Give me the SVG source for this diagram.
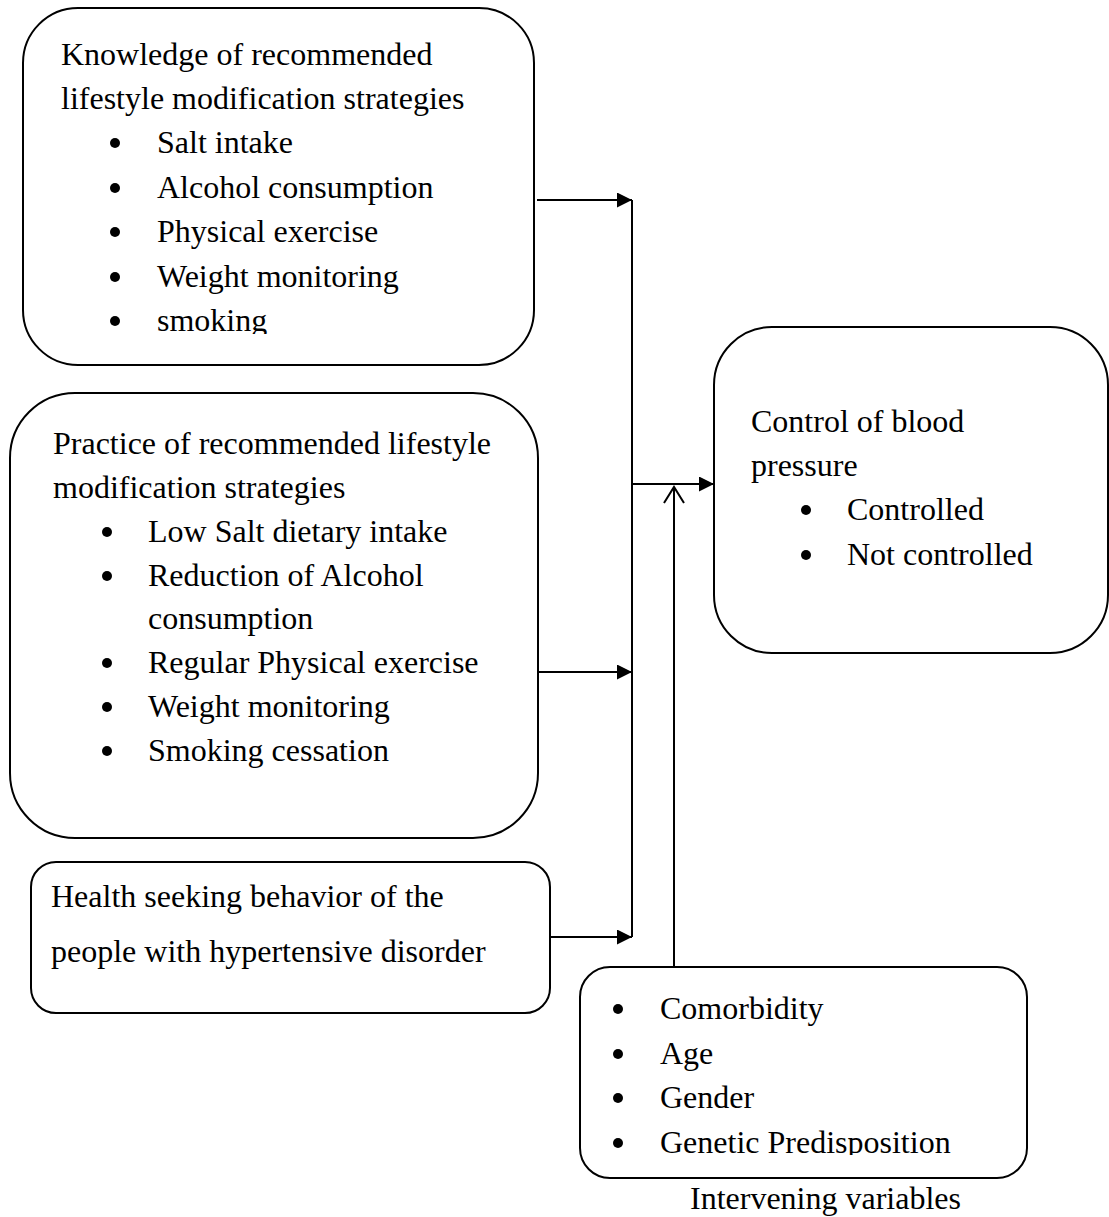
<svg xmlns="http://www.w3.org/2000/svg" width="1109" height="1217" viewBox="0 0 1109 1217">
<style>
.box{fill:#fff;stroke:#000;stroke-width:2}
text{font-family:"Liberation Serif","Times New Roman",serif;font-size:32px;fill:#000}
.ln{stroke:#000;stroke-width:2;fill:none}
.dot{fill:#000}
</style>
<defs>
<marker id="fill" markerWidth="16" markerHeight="16" refX="15" refY="7.5" orient="auto" markerUnits="userSpaceOnUse">
<path d="M0,0 L15,7.5 L0,15 Z" fill="#000"/>
</marker>
<marker id="open" markerWidth="24" markerHeight="24" refX="17" refY="11" orient="auto" markerUnits="userSpaceOnUse">
<path d="M1,1 L17,11 L1,21" fill="none" stroke="#000" stroke-width="2"/>
</marker>
<clipPath id="c1"><rect x="0" y="0" width="600" height="334"/></clipPath>
<clipPath id="c5"><rect x="560" y="960" width="520" height="195"/></clipPath>
</defs>

<g id="knowledge">
<rect class="box" x="23" y="8" width="511" height="357" rx="55" ry="55"/>
<g clip-path="url(#c1)">
<text x="61" y="65">Knowledge of recommended</text>
<text x="61" y="109">lifestyle modification strategies</text>
<circle class="dot" cx="115" cy="143" r="5"/><text x="157" y="153">Salt intake</text>
<circle class="dot" cx="115" cy="188" r="5"/><text x="157" y="198">Alcohol consumption</text>
<circle class="dot" cx="115" cy="232" r="5"/><text x="157" y="242">Physical exercise</text>
<circle class="dot" cx="115" cy="277" r="5"/><text x="157" y="287">Weight monitoring</text>
<circle class="dot" cx="115" cy="321" r="5"/><text x="157" y="331">smoking</text>
</g>
</g>

<g id="practice">
<rect class="box" x="10" y="393" width="528" height="445" rx="65" ry="65"/>
<text x="53" y="454">Practice of recommended lifestyle</text>
<text x="53" y="498">modification strategies</text>
<circle class="dot" cx="107" cy="532" r="5"/><text x="148" y="542">Low Salt dietary intake</text>
<circle class="dot" cx="107" cy="576" r="5"/><text x="148" y="586">Reduction of Alcohol</text>
<text x="148" y="629">consumption</text>
<circle class="dot" cx="107" cy="663" r="5"/><text x="148" y="673">Regular Physical exercise</text>
<circle class="dot" cx="107" cy="707" r="5"/><text x="148" y="717">Weight monitoring</text>
<circle class="dot" cx="107" cy="751" r="5"/><text x="148" y="761">Smoking cessation</text>
</g>

<g id="health">
<rect class="box" x="31" y="862" width="519" height="151" rx="25" ry="25"/>
<text x="51" y="907">Health seeking behavior of the</text>
<text x="51" y="962">people with hypertensive disorder</text>
</g>

<g id="control">
<rect class="box" x="714" y="327" width="394" height="326" rx="58" ry="58"/>
<text x="751" y="432">Control of blood</text>
<text x="751" y="476">pressure</text>
<circle class="dot" cx="806" cy="510" r="5"/><text x="847" y="520">Controlled</text>
<circle class="dot" cx="806" cy="555" r="5"/><text x="847" y="565">Not controlled</text>
</g>

<g id="intervening">
<rect class="box" x="580" y="967" width="447" height="211" rx="30" ry="30"/>
<g clip-path="url(#c5)">
<circle class="dot" cx="618" cy="1009" r="5"/><text x="660" y="1019">Comorbidity</text>
<circle class="dot" cx="618" cy="1054" r="5"/><text x="660" y="1064">Age</text>
<circle class="dot" cx="618" cy="1098" r="5"/><text x="660" y="1108">Gender</text>
<circle class="dot" cx="618" cy="1143" r="5"/><text x="660" y="1153">Genetic Predisposition</text>
</g>
</g>

<g id="label">
<text x="690" y="1209">Intervening variables</text>
</g>

<g id="connectors">
<line class="ln" x1="537" y1="200" x2="632" y2="200" marker-end="url(#fill)"/>
<line class="ln" x1="537" y1="672" x2="632" y2="672" marker-end="url(#fill)"/>
<line class="ln" x1="550" y1="937" x2="632" y2="937" marker-end="url(#fill)"/>
<line class="ln" x1="632" y1="200" x2="632" y2="937"/>
<line class="ln" x1="632" y1="484" x2="714" y2="484" marker-end="url(#fill)"/>
<line class="ln" x1="674" y1="967" x2="674" y2="487" marker-end="url(#open)"/>
</g>
</svg>
